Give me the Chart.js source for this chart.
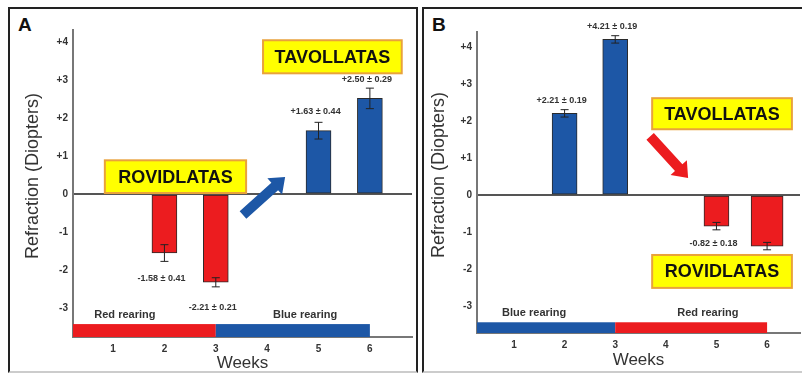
<!DOCTYPE html>
<html>
<head>
<meta charset="utf-8">
<script src="https://cdn.jsdelivr.net/npm/chart.js@4.4.1/dist/chart.umd.min.js"></script>
<style>
  body { margin: 0; background: #fff; width: 802px; height: 374px; overflow: hidden; position: relative; font-family: "Liberation Sans", Arial, sans-serif; }
  .frame { position: absolute; border: 2px solid #222; border-bottom-color: #ccc; box-sizing: border-box; }
  .letter { position: absolute; font-weight: bold; font-size: 19px; color: #111; }
  canvas { position: absolute; top: 0; }
</style>
</head>
<body>
<div class="frame" style="left:8px; top:7px; width:410px; height:366px;"></div>
<div class="frame" style="left:422px; top:7px; width:382px; height:366px;"></div>
<div class="letter" style="left:18px; top:14px;">A</div>
<div class="letter" style="left:432px; top:14px;">B</div>
<div style="position:absolute; left:0; top:0; width:420px; height:374px;"><canvas id="panelA"></canvas></div>
<div style="position:absolute; left:420px; top:0; width:382px; height:374px;"><canvas id="panelB"></canvas></div>
<script>
// ---------- data ----------
const weeks = [1, 2, 3, 4, 5, 6];
const yTicks = [-3, -2, -1, 0, 1, 2, 3, 4];

// panel A : red rearing then blue rearing
const refractionA = [null, -1.55, -2.32, null, 1.67, 2.52];
const errorA = [0, 0.22, 0.12, 0, 0.22, 0.27];
const labelsA = ['', '-1.58 \u00b1 0.41', '-2.21 \u00b1 0.21', '', '+1.63 \u00b1 0.44', '+2.50 \u00b1 0.29'];

// panel B : blue rearing then red rearing
const refractionB = [null, 2.21, 4.21, null, -0.84, -1.38];
const errorB = [0, 0.1, 0.1, 0, 0.1, 0.1];
const labelsB = ['', '+2.21 \u00b1 0.19', '+4.21 \u00b1 0.19', '', '-0.82 \u00b1 0.18', ''];

const RED = '#ec1c1f';
const BLUE = '#1d57a6';

// ---------- helpers ----------
function barColors(values) {
  return values.filter(v => v !== null).map(v => v < 0 ? RED : BLUE);
}
function points(values) {
  const out = [];
  values.forEach((v, i) => { if (v !== null) out.push({x: weeks[i], y: v}); });
  return out;
}

const overlay = {
  id: 'overlay',
  afterDraw(chart, args, o) {
    const ctx = chart.ctx;
    const xs = chart.scales.x, ys = chart.scales.y;
    const px = v => xs.getPixelForValue(v);
    const py = v => ys.getPixelForValue(v);
    ctx.save();

    // error bars + value labels
    o.values.forEach((v, i) => {
      if (v === null) return;
      const x = px(weeks[i]);
      const e = o.errors[i];
      ctx.strokeStyle = '#222';
      ctx.lineWidth = 1;
      ctx.beginPath();
      ctx.moveTo(x, py(v + e)); ctx.lineTo(x, py(v - e));
      ctx.moveTo(x - 4, py(v + e)); ctx.lineTo(x + 4, py(v + e));
      ctx.moveTo(x - 4, py(v - e)); ctx.lineTo(x + 4, py(v - e));
      ctx.stroke();
      if (o.labels[i]) {
        ctx.fillStyle = '#333';
        ctx.font = 'bold 9px "Liberation Sans", Arial';
        ctx.textAlign = 'center';
        ctx.textBaseline = 'middle';
        const y = v >= 0 ? py(v) - o.gapUp : py(v) + o.gapDown;
        ctx.fillText(o.labels[i], x - 3, y);
      }
    });

    // rearing strip along the bottom
    o.rearing.forEach(r => {
      const x0 = px(r.from === null ? xs.min : r.from);
      const x1 = px(r.to);
      const y0 = py(o.stripTop), y1 = py(ys.min);
      ctx.fillStyle = r.color;
      ctx.fillRect(x0, y0, x1 - x0, y1 - y0);
      ctx.fillStyle = '#333';
      ctx.font = 'bold 11px "Liberation Sans", Arial';
      ctx.textAlign = 'center';
      ctx.textBaseline = 'middle';
      ctx.fillText(r.text, px(r.labelX), py(o.stripLabelY));
    });

    // arrow
    const a = o.arrow;
    const ax0 = px(a.x0), ay0 = py(a.y0), ax1 = px(a.x1), ay1 = py(a.y1);
    const ang = Math.atan2(ay1 - ay0, ax1 - ax0);
    const len = Math.hypot(ax1 - ax0, ay1 - ay0);
    ctx.save();
    ctx.translate(ax0, ay0);
    ctx.rotate(ang);
    ctx.fillStyle = a.color;
    ctx.beginPath();
    ctx.moveTo(0, -5); ctx.lineTo(len - 14, -5); ctx.lineTo(len - 14, -11);
    ctx.lineTo(len, 0);
    ctx.lineTo(len - 14, 11); ctx.lineTo(len - 14, 5); ctx.lineTo(0, 5);
    ctx.closePath();
    ctx.fill();
    ctx.restore();

    // yellow boxes
    o.boxes.forEach(b => {
      const x0 = px(b.x0), x1 = px(b.x1), y0 = py(b.y0), y1 = py(b.y1);
      ctx.fillStyle = '#ffff00';
      ctx.fillRect(x0, y0, x1 - x0, y1 - y0);
      ctx.strokeStyle = '#e9a23b';
      ctx.lineWidth = 2;
      ctx.strokeRect(x0, y0, x1 - x0, y1 - y0);
      ctx.fillStyle = '#111';
      ctx.font = 'bold 18px "Liberation Sans", Arial';
      ctx.textAlign = 'center';
      ctx.textBaseline = 'middle';
      ctx.fillText(b.text, (x0 + x1) / 2, (y0 + y1) / 2 + 1);
    });
    ctx.restore();
  }
};

function makePanel(id, cfg) {
  const wideWeek = cfg.wide ? cfg.wide.week : null;
  const main = refr => refr.map((v, i) => weeks[i] === wideWeek ? null : v);
  const datasets = [{
    data: points(main(cfg.values)),
    backgroundColor: barColors(main(cfg.values)),
    borderColor: '#2a2a2a',
    borderWidth: 1,
    borderSkipped: false,
    barThickness: 25,
    grouped: false
  }];
  if (cfg.wide) {
    const v = cfg.values[weeks.indexOf(wideWeek)];
    datasets.push({
      data: [{x: wideWeek, y: v}],
      backgroundColor: v < 0 ? RED : BLUE,
      borderColor: '#2a2a2a',
      borderWidth: 1,
      borderSkipped: false,
      barThickness: cfg.wide.thickness,
      grouped: false
    });
  }
  return new Chart(document.getElementById(id), {
    type: 'bar',
    data: { datasets },
    plugins: [overlay],
    options: {
      responsive: true,
      maintainAspectRatio: false,
      animation: false,
      layout: { padding: { top: cfg.padTop, right: cfg.padRight, left: 0, bottom: 0 } },
      plugins: {
        legend: { display: false },
        tooltip: { enabled: false },
        overlay: {
          values: cfg.values, errors: cfg.errors, labels: cfg.labels, gapUp: cfg.gapUp, gapDown: cfg.gapDown,
          rearing: cfg.rearing, stripTop: cfg.stripTop, stripLabelY: cfg.stripLabelY,
          arrow: cfg.arrow, boxes: cfg.boxes
        }
      },
      scales: {
        x: {
          type: 'linear',
          offset: false,
          min: cfg.xMin, max: cfg.xMax,
          afterBuildTicks: s => { s.ticks = weeks.map(v => ({value: v})); },
          afterFit: s => { s.height = cfg.xAxisHeight; },
          grid: { display: false, drawTicks: false },
          border: { color: '#777', width: 2 },
          ticks: { padding: cfg.xTickPad, color: '#333', font: { size: 10, weight: 'bold', family: '"Liberation Sans", Arial' } },
          title: { display: true, text: 'Weeks', color: '#333', padding: { top: 0, bottom: cfg.weeksPad },
                   font: { size: 17, family: '"Liberation Sans", Arial' } }
        },
        y: {
          min: cfg.yMin, max: cfg.yMax,
          afterBuildTicks: s => { s.ticks = yTicks.map(v => ({value: v})); },
          afterFit: s => { s.width = cfg.yAxisWidth; },
          grid: { drawTicks: false, lineWidth: 2, color: c => c.tick && c.tick.value === 0 ? '#555' : 'transparent' },
          border: { color: '#777', width: 2 },
          ticks: { padding: 5, color: '#333', callback: v => v > 0 ? '+' + v : String(v),
                   font: { size: 10, weight: 'bold', family: '"Liberation Sans", Arial' } },
          title: { display: true, text: '   Refraction (Diopters)', color: '#333', padding: { top: cfg.titlePad, bottom: 0 },
                   font: { size: 18, family: '"Liberation Sans", Arial' } }
        }
      }
    }
  });
}

makePanel('panelA', {
  values: refractionA, errors: errorA, labels: labelsA, gapUp: 19, gapDown: 25,
  xMin: 0.22, xMax: 6.82, yMin: -3.76, yMax: 4.32,
  padTop: 30, padRight: 8, xAxisHeight: 37, yAxisWidth: 73, titlePad: 22, xTickPad: 6, weeksPad: 0,
  stripTop: -3.42, stripLabelY: -3.18,
  rearing: [
    { from: null, to: 3, color: RED, text: 'Red rearing', labelX: 1.23 },
    { from: 3, to: 6, color: BLUE, text: 'Blue rearing', labelX: 4.74 }
  ],
  arrow: { x0: 3.53, y0: -0.55, x1: 4.35, y1: 0.45, color: BLUE },
  boxes: [
    { text: 'TAVOLLATAS', x0: 3.92, x1: 6.62, y0: 4.05, y1: 3.18 },
    { text: 'ROVIDLATAS', x0: 0.84, x1: 3.59, y0: 0.89, y1: 0.03 }
  ]
});

makePanel('panelB', {
  values: refractionB, errors: errorB, labels: labelsB, gapUp: 13, gapDown: 17,
  wide: { week: 6, thickness: 32 },
  xMin: 0.27, xMax: 6.65, yMin: -3.73, yMax: 4.41,
  padTop: 32, padRight: 2, xAxisHeight: 41, yAxisWidth: 57, titlePad: 8, xTickPad: 6, weeksPad: 3,
  stripTop: -3.44, stripLabelY: -3.19,
  rearing: [
    { from: null, to: 3, color: BLUE, text: 'Blue rearing', labelX: 1.4 },
    { from: 3, to: 6, color: RED, text: 'Red rearing', labelX: 4.83 }
  ],
  arrow: { x0: 3.69, y0: 1.59, x1: 4.44, y1: 0.46, color: RED },
  boxes: [
    { text: 'TAVOLLATAS', x0: 3.73, x1: 6.49, y0: 2.62, y1: 1.78 },
    { text: 'ROVIDLATAS', x0: 3.73, x1: 6.49, y0: -1.62, y1: -2.51 }
  ]
});
</script>
</body>
</html>
